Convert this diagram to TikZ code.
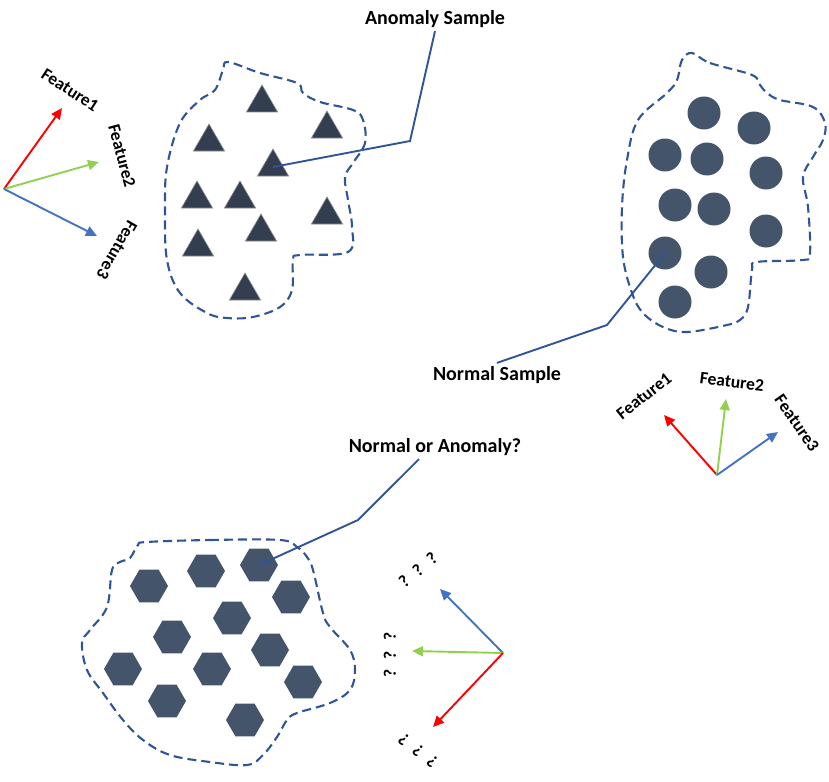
\documentclass[tikz,border=0pt]{standalone}
\usepackage{fontspec}
\setmainfont{Carlito}
\usetikzlibrary{arrows.meta,shapes.geometric}
\definecolor{blobline}{HTML}{2F5597}
\definecolor{trifill}{HTML}{333F50}
\definecolor{ptfill}{HTML}{44546A}
\definecolor{fred}{HTML}{FF0000}
\definecolor{fgreen}{HTML}{92D050}
\definecolor{fblue}{HTML}{4472C4}
\newcommand{\qmarks}{?\hspace{10pt}?\hspace{10pt}?}

\begin{document}
\begin{tikzpicture}[x=1pt, y=-1pt,
  blob/.style={draw=blobline, line width=2.1pt, dash pattern=on 9pt off 5pt},
  leader/.style={draw=blobline, line width=1.9pt},
  axis/.style={line width=1.9pt, -{Triangle[length=11pt,width=10pt]}},
  tag/.style={font=\fontsize{20}{24}\selectfont\bfseries},
  feat/.style={font=\fontsize{17.5}{20}\selectfont\bfseries, inner sep=0.5pt},
  trimark/.style={regular polygon, regular polygon sides=3, minimum size=36pt, inner sep=0pt, fill=trifill, draw=black!45, line width=0.6pt},
  circmark/.style={circle, minimum size=33pt, inner sep=0pt, fill=ptfill},
  hexmark/.style={regular polygon, regular polygon sides=6, minimum size=38pt, inner sep=0pt, fill=ptfill}]
\useasboundingbox (0,0) rectangle (829,781);

% the three groups
\draw[blob] plot[smooth cycle, tension=0.6] coordinates {(228,62) (260,73) (297,83) (303,93) (320,102) (353,110) (363,120) (365,143) (353,163) (345,177) (348,200) (352,227) (348,252) (300,255) (293,260) (292,290) (280,307) (253,317) (227,318) (207,313) (180,293) (167,260) (165,210) (167,167) (180,123) (200,100) (215,90) (223,70)};
\draw[blob] plot[smooth cycle, tension=0.6] coordinates {(692,53) (710,63) (752,75) (760,85) (767,93) (780,100) (813,107) (825,123) (823,140) (813,157) (803,177) (808,207) (810,253) (803,260) (757,262) (752,270) (748,307) (740,320) (727,325) (687,332) (663,327) (643,313) (632,293) (623,257) (622,207) (627,160) (638,120) (667,93) (677,80) (682,60)};
\draw[blob] plot[smooth cycle, tension=0.6] coordinates {(147,542) (210,540) (280,540) (297,547) (307,557) (313,570) (323,613) (330,627) (350,650) (355,670) (350,690) (330,703) (297,713) (287,720) (277,737) (263,755) (247,765) (210,762) (170,755) (143,740) (123,720) (103,693) (87,670) (82,643) (90,630) (107,607) (112,570) (120,562) (130,558) (138,545)};

\foreach \x/\y [count=\i] in {262/103,209/142,327/129,273/167,197/199,240/199,327/215,261/232,198/247,245/291}
  \node[trimark] (t\i) at (\x,\y) {};
\foreach \x/\y [count=\i] in {704/113,754/128,665/155,707/159,766/173,675/205,714/209,766/231,665/253,711/272,675/302}
  \node[circmark] (c\i) at (\x,\y) {};
\foreach \x/\y [count=\i] in {149/586,206/571,259/565,291/597,232/618,172/637,270/650,123/669,212/669,303/682,167/701,245/720}
  \node[hexmark] (h\i) at (\x,\y) {};

% callouts
\node[tag] (anomTag) at (435,19) {Anomaly Sample};
\node[tag] (normTag) at (497,375) {Normal Sample};
\node[tag] (askTag) at (435,447) {Normal or Anomaly?};
\coordinate (anomBend) at (410,141);
\coordinate (normBend) at (607,325);
\coordinate (askBend) at (358,520);
\draw[leader] (t4.center) -- (anomBend) -- (anomTag.south);
\draw[leader] (c9.center) -- (normBend) -- (normTag.north);
\draw[leader] (h3.center) -- (askBend) -- ([xshift=-16pt]askTag.south);

% feature axes, top left
\coordinate (o1) at (4,189);
\coordinate (r1) at (62,108); \coordinate (g1) at (99,162); \coordinate (b1) at (97,236);
\draw[axis, fred] (o1) -- (r1);
\draw[axis, fgreen] (o1) -- (g1);
\draw[axis, fblue] (o1) -- (b1);
\node[feat, rotate=-33] (fa1) at (70,90) {Feature1};
\node[feat, rotate=-75] (fa2) at (122,156) {Feature2};
\node[feat, rotate=-120] (fa3) at (117,250) {Feature3};

% feature axes, right
\coordinate (o2) at (717,475);
\coordinate (r2) at (664,415); \coordinate (g2) at (726,399); \coordinate (b2) at (778,432);
\draw[axis, fred] (o2) -- (r2);
\draw[axis, fgreen] (o2) -- (g2);
\draw[axis, fblue] (o2) -- (b2);
\node[feat, rotate=38] (fb1) at (644,396) {Feature1};
\node[feat, rotate=-7] (fb2) at (732,382) {Feature2};
\node[feat, rotate=-55] (fb3) at (797,423) {Feature3};

% unknown axes, bottom
\coordinate (o3) at (503,653);
\coordinate (b3) at (440,589); \coordinate (g3) at (412,651); \coordinate (r3) at (433,727);
\draw[axis, fblue] (o3) -- (b3);
\draw[axis, fgreen] (o3) -- (g3);
\draw[axis, fred] (o3) -- (r3);
\node[feat, rotate=40] (q1) at (418,570) {\qmarks};
\node[feat, rotate=90] (q2) at (390,655) {\qmarks};
\node[feat, rotate=142] (q3) at (418,751) {\qmarks};
\end{tikzpicture}
\end{document}
